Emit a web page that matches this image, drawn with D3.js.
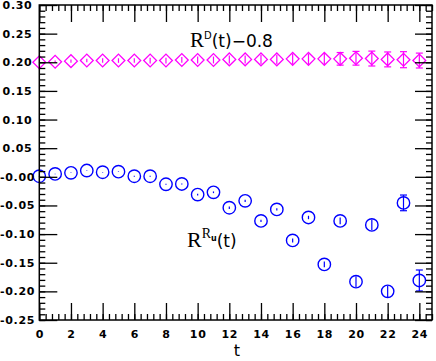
<!DOCTYPE html>
<html>
<head>
<meta charset="utf-8">
<script src="https://cdn.jsdelivr.net/npm/d3@7/dist/d3.min.js"></script>
<style>
  body { margin: 0; background: #fff; }
  svg { display: block; }
  .tl text { font-family: "DejaVu Sans", sans-serif; font-weight: bold; font-size: 11px; letter-spacing: 0.7px; fill: #000; }
</style>
</head>
<body>
<div id="chart"></div>
<script>
// time slices
var tVals = d3.range(0, 25);

// R^D(t) - 0.8 (magenta diamonds)
var rdVals = [0.200, 0.201, 0.202, 0.203, 0.203, 0.203, 0.203, 0.203, 0.203, 0.204,
              0.204, 0.204, 0.205, 0.205, 0.205, 0.205, 0.206, 0.206, 0.206, 0.206,
              0.207, 0.2065, 0.205, 0.2045, 0.203];
var rdErrs = [0.0005, 0.002, 0.003, 0.003, 0.004, 0.004, 0.004, 0.005, 0.005, 0.005,
              0.006, 0.006, 0.007, 0.007, 0.008, 0.008, 0.009, 0.009, 0.010, 0.011,
              0.012, 0.013, 0.013, 0.014, 0.013];

// R^{R_u}(t) (blue circles)
var ruVals = [0.001, 0.005, 0.007, 0.011, 0.008, 0.009, 0.001, 0.001, -0.013, -0.0125,
              -0.031, -0.027, -0.054, -0.042, -0.077, -0.057, -0.111, -0.071, -0.153, -0.077,
              -0.183, -0.084, -0.200, -0.0455, -0.181];
var ruErrs = [0.0005, 0.0005, 0.0005, 0.0005, 0.0005, 0.0005, 0.001, 0.001, 0.001, 0.001,
              0.0015, 0.0015, 0.002, 0.002, 0.002, 0.002, 0.0035, 0.003, 0.005, 0.006,
              0.0093, 0.0093, 0.010, 0.0137, 0.0183];

// axis ticks
var xMajor = d3.range(0, 25, 2);
var xMinor = d3.range(0, 24.9, 0.4);
var yMajor = [-0.25, -0.20, -0.15, -0.10, -0.05, 0.00, 0.05, 0.10, 0.15, 0.20, 0.25, 0.30];
var yMinor = d3.range(-0.25, 0.3001, 0.01);

var width = 436, height = 361;
var plot = {left: 39.3, right: 432, top: 5, bottom: 320};

var svg = d3.select("#chart").append("svg")
    .attr("width", width)
    .attr("height", height);

var x = d3.scaleLinear().domain([0, 24.8]).range([plot.left, plot.right]);
var y = d3.scaleLinear().domain([-0.25, 0.30]).range([plot.bottom, plot.top]);

function yFmt(d) {
    return (d <= 1e-9 ? "-" : "") + Math.abs(d).toFixed(2);
}

// error bars helper
function drawSeries(cls, vals, errs, color) {
    var g = svg.append("g").attr("class", cls)
        .attr("stroke", color).attr("fill", "none");
    var data = tVals.map((t, i) => ({t: t, v: vals[i], e: errs[i]}));
    var eb = g.selectAll("g.eb").data(data).enter().append("g").attr("class", "eb");
    eb.append("line")
        .attr("x1", d => x(d.t)).attr("x2", d => x(d.t))
        .attr("y1", d => y(d.v - d.e)).attr("y2", d => y(d.v + d.e))
        .attr("stroke-width", 1.2);
    eb.filter(d => d.e > 0.0105).selectAll("line.cap")
        .data(d => [d.v - d.e, d.v + d.e].map(v => ({t: d.t, v: v})))
        .enter().append("line").attr("class", "cap")
        .attr("x1", d => x(d.t) - 3.5).attr("x2", d => x(d.t) + 3.5)
        .attr("y1", d => y(d.v)).attr("y2", d => y(d.v))
        .attr("stroke-width", 1.2);
    return {g: g, data: data};
}

var rd = drawSeries("rd", rdVals, rdErrs, "#ff00ff");
rd.g.selectAll("path.mk").data(rd.data).enter().append("path")
    .attr("class", "mk")
    .attr("d", d => {
        var cx = x(d.t), cy = y(d.v), r = 6.4;
        return "M" + (cx - r) + "," + cy + "L" + cx + "," + (cy - r) +
               "L" + (cx + r) + "," + cy + "L" + cx + "," + (cy + r) + "Z";
    })
    .attr("stroke-width", 1.3);

var ru = drawSeries("ru", ruVals, ruErrs, "#0000ff");
ru.g.selectAll("circle.mk").data(ru.data).enter().append("circle")
    .attr("class", "mk")
    .attr("cx", d => x(d.t))
    .attr("cy", d => y(d.v))
    .attr("r", 6.2)
    .attr("stroke-width", 1.4);

// axes, ticks pointing inward
var axG = svg.append("g").attr("class", "tl");

axG.append("g").attr("transform", "translate(0," + plot.bottom + ")")
    .call(d3.axisBottom(x).tickValues(xMinor).tickSize(-6).tickFormat(""));
axG.append("g").attr("transform", "translate(0," + plot.bottom + ")")
    .call(d3.axisBottom(x).tickValues(xMajor).tickSize(-17).tickPadding(10).tickFormat(d3.format("d")));
axG.append("g").attr("transform", "translate(0," + plot.top + ")")
    .call(d3.axisTop(x).tickValues(xMinor).tickSize(-6).tickFormat(""));
axG.append("g").attr("transform", "translate(0," + plot.top + ")")
    .call(d3.axisTop(x).tickValues(xMajor).tickSize(-17).tickFormat(""));

axG.append("g").attr("transform", "translate(" + plot.left + ",0)")
    .call(d3.axisLeft(y).tickValues(yMinor).tickSize(-6).tickFormat(""));
axG.append("g").attr("class", "yl").attr("transform", "translate(" + plot.left + ",0)")
    .call(d3.axisLeft(y).tickValues(yMajor).tickSize(-18).tickFormat(yFmt));
axG.append("g").attr("transform", "translate(" + plot.right + ",0)")
    .call(d3.axisRight(y).tickValues(yMinor).tickSize(-6).tickFormat(""));
axG.append("g").attr("transform", "translate(" + plot.right + ",0)")
    .call(d3.axisRight(y).tickValues(yMajor).tickSize(-17).tickFormat(""));

axG.selectAll(".domain").remove();
axG.selectAll(".tick line").attr("stroke", "#000").attr("stroke-width", 1.3);
axG.select(".yl").selectAll("text")
    .attr("text-anchor", "middle")
    .attr("x", 17.5 - plot.left);

svg.append("rect")
    .attr("x", plot.left).attr("y", plot.top)
    .attr("width", plot.right - plot.left)
    .attr("height", plot.bottom - plot.top)
    .attr("fill", "none").attr("stroke", "#000").attr("stroke-width", 1.5);

// axis title
svg.append("text")
    .attr("x", 237).attr("y", 356)
    .attr("text-anchor", "middle")
    .style("font-family", "DejaVu Sans, sans-serif")
    .style("font-size", "16px")
    .text("t");

// series labels
var lab1 = svg.append("text").attr("x", 190).attr("y", 47)
    .style("font-family", "DejaVu Sans, sans-serif").style("font-size", "17px");
lab1.append("tspan").style("font-family", "Liberation Serif, serif").style("font-size", "21px").text("R");
lab1.append("tspan").attr("dy", -8).style("font-size", "10px").text("D");
lab1.append("tspan").attr("dy", 8).text("(t)\u22120.8");

var lab2 = svg.append("text").attr("x", 187).attr("y", 247)
    .style("font-family", "DejaVu Sans, sans-serif").style("font-size", "17px");
lab2.append("tspan").style("font-family", "Liberation Serif, serif").style("font-size", "22px").text("R");
lab2.append("tspan").attr("dy", -9).style("font-family", "Liberation Serif, serif").style("font-size", "14px").text("R");
lab2.append("tspan").attr("dy", 3).style("font-size", "8px").style("font-weight", "bold").text("u");
lab2.append("tspan").attr("dy", 6).text("(t)");
</script>
</body>
</html>
